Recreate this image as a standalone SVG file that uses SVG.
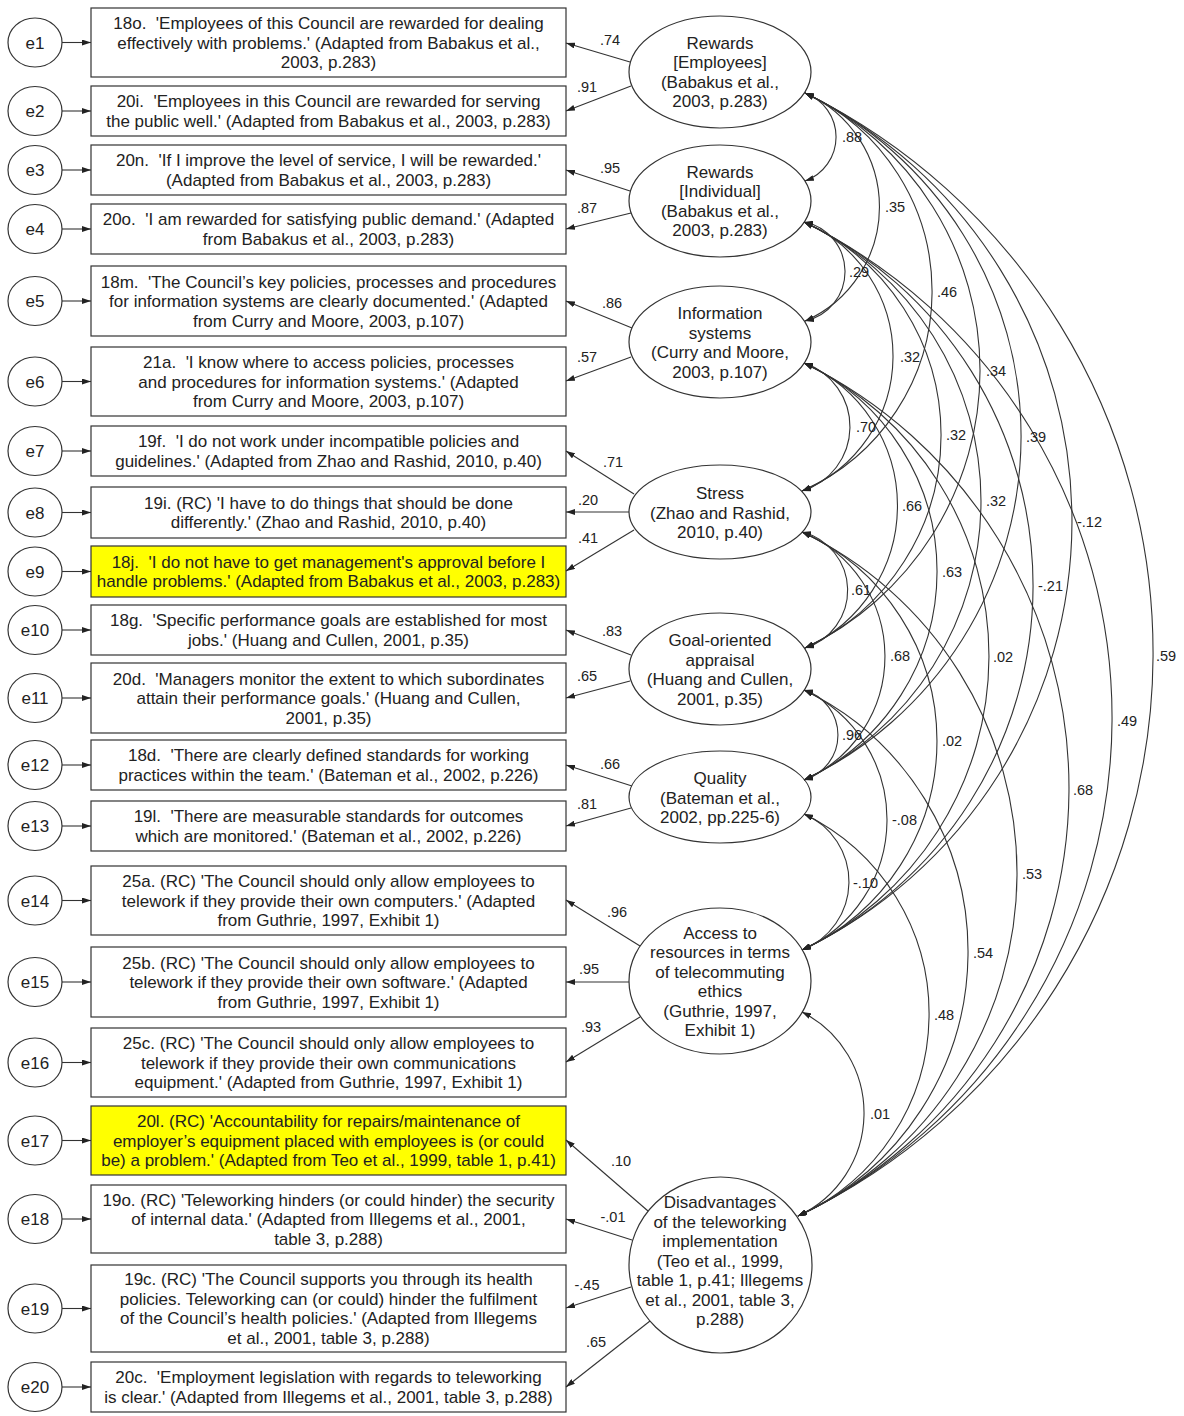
<svg xmlns="http://www.w3.org/2000/svg" width="1184" height="1416" viewBox="0 0 1184 1416">
<style>
.box{fill:#fff;stroke:#333;stroke-width:1.2}
.hl{fill:#ffff00}
.lat{fill:#fff;stroke:#333;stroke-width:1.2}
.t{font-family:"Liberation Sans",Arial,sans-serif;font-size:17px;fill:#222;text-anchor:middle;white-space:pre}
.l{font-family:"Liberation Sans",Arial,sans-serif;font-size:14.5px;fill:#222}
.lm{text-anchor:middle}
.a{fill:none;stroke:#333;stroke-width:1.1;marker-end:url(#ah)}
.c{fill:none;stroke:#333;stroke-width:1.1;marker-start:url(#ah);marker-end:url(#ah)}
</style>
<defs>
<marker id="ah" viewBox="0 0 9 6" refX="9" refY="3" markerWidth="9" markerHeight="6" markerUnits="userSpaceOnUse" orient="auto-start-reverse"><path d="M0,0 L9,3 L0,6 z" fill="#222"/></marker>
</defs>
<rect width="1184" height="1416" fill="#fff"/>

<g id="errors">
<g id="e1"><ellipse class="lat" cx="35" cy="42.5" rx="27" ry="24.5"/><text class="t" x="35" y="48.5">e1</text></g>
<g id="e2"><ellipse class="lat" cx="35" cy="111" rx="27" ry="24.5"/><text class="t" x="35" y="117">e2</text></g>
<g id="e3"><ellipse class="lat" cx="35" cy="170" rx="27" ry="24.5"/><text class="t" x="35" y="176">e3</text></g>
<g id="e4"><ellipse class="lat" cx="35" cy="229" rx="27" ry="24.5"/><text class="t" x="35" y="235">e4</text></g>
<g id="e5"><ellipse class="lat" cx="35" cy="301" rx="27" ry="24.5"/><text class="t" x="35" y="307">e5</text></g>
<g id="e6"><ellipse class="lat" cx="35" cy="381.5" rx="27" ry="24.5"/><text class="t" x="35" y="387.5">e6</text></g>
<g id="e7"><ellipse class="lat" cx="35" cy="451" rx="27" ry="24.5"/><text class="t" x="35" y="457">e7</text></g>
<g id="e8"><ellipse class="lat" cx="35" cy="512.5" rx="27" ry="24.5"/><text class="t" x="35" y="518.5">e8</text></g>
<g id="e9"><ellipse class="lat" cx="35" cy="571.5" rx="27" ry="24.5"/><text class="t" x="35" y="577.5">e9</text></g>
<g id="e10"><ellipse class="lat" cx="35" cy="630" rx="27" ry="24.5"/><text class="t" x="35" y="636">e10</text></g>
<g id="e11"><ellipse class="lat" cx="35" cy="698" rx="27" ry="24.5"/><text class="t" x="35" y="704">e11</text></g>
<g id="e12"><ellipse class="lat" cx="35" cy="765" rx="27" ry="24.5"/><text class="t" x="35" y="771">e12</text></g>
<g id="e13"><ellipse class="lat" cx="35" cy="826" rx="27" ry="24.5"/><text class="t" x="35" y="832">e13</text></g>
<g id="e14"><ellipse class="lat" cx="35" cy="900.5" rx="27" ry="24.5"/><text class="t" x="35" y="906.5">e14</text></g>
<g id="e15"><ellipse class="lat" cx="35" cy="982" rx="27" ry="24.5"/><text class="t" x="35" y="988">e15</text></g>
<g id="e16"><ellipse class="lat" cx="35" cy="1062.5" rx="27" ry="24.5"/><text class="t" x="35" y="1068.5">e16</text></g>
<g id="e17"><ellipse class="lat" cx="35" cy="1140.5" rx="27" ry="24.5"/><text class="t" x="35" y="1146.5">e17</text></g>
<g id="e18"><ellipse class="lat" cx="35" cy="1219" rx="27" ry="24.5"/><text class="t" x="35" y="1225">e18</text></g>
<g id="e19"><ellipse class="lat" cx="35" cy="1308.5" rx="27" ry="24.5"/><text class="t" x="35" y="1314.5">e19</text></g>
<g id="e20"><ellipse class="lat" cx="35" cy="1387" rx="27" ry="24.5"/><text class="t" x="35" y="1393">e20</text></g>
</g>

<g id="items">
<g id="i18o"><rect class="box" x="91" y="8" width="475" height="69"/><text class="t" y="29"><tspan x="328.5">18o.  'Employees of this Council are rewarded for dealing</tspan><tspan x="328.5" dy="19.5">effectively with problems.' (Adapted from Babakus et al.,</tspan><tspan x="328.5" dy="19.5">2003, p.283)</tspan></text></g>
<g id="i20i"><rect class="box" x="91" y="86" width="475" height="50"/><text class="t" y="107.25"><tspan x="328.5">20i.  'Employees in this Council are rewarded for serving</tspan><tspan x="328.5" dy="19.5">the public well.' (Adapted from Babakus et al., 2003, p.283)</tspan></text></g>
<g id="i20n"><rect class="box" x="91" y="145" width="475" height="50"/><text class="t" y="166.25"><tspan x="328.5">20n.  'If I improve the level of service, I will be rewarded.'</tspan><tspan x="328.5" dy="19.5">(Adapted from Babakus et al., 2003, p.283)</tspan></text></g>
<g id="i20o"><rect class="box" x="91" y="204" width="475" height="50"/><text class="t" y="225.25"><tspan x="328.5">20o.  'I am rewarded for satisfying public demand.' (Adapted</tspan><tspan x="328.5" dy="19.5">from Babakus et al., 2003, p.283)</tspan></text></g>
<g id="i18m"><rect class="box" x="91" y="266" width="475" height="70"/><text class="t" y="287.5"><tspan x="328.5">18m.  'The Council’s key policies, processes and procedures</tspan><tspan x="328.5" dy="19.5">for information systems are clearly documented.' (Adapted</tspan><tspan x="328.5" dy="19.5">from Curry and Moore, 2003, p.107)</tspan></text></g>
<g id="i21a"><rect class="box" x="91" y="347" width="475" height="69"/><text class="t" y="368"><tspan x="328.5">21a.  'I know where to access policies, processes</tspan><tspan x="328.5" dy="19.5">and procedures for information systems.' (Adapted</tspan><tspan x="328.5" dy="19.5">from Curry and Moore, 2003, p.107)</tspan></text></g>
<g id="i19f"><rect class="box" x="91" y="426" width="475" height="50"/><text class="t" y="447.25"><tspan x="328.5">19f.  'I do not work under incompatible policies and</tspan><tspan x="328.5" dy="19.5">guidelines.' (Adapted from Zhao and Rashid, 2010, p.40)</tspan></text></g>
<g id="i19i"><rect class="box" x="91" y="487" width="475" height="51"/><text class="t" y="508.75"><tspan x="328.5">19i. (RC) 'I have to do things that should be done</tspan><tspan x="328.5" dy="19.5">differently.' (Zhao and Rashid, 2010, p.40)</tspan></text></g>
<g id="i18j"><rect class="box hl" x="91" y="546" width="475" height="51"/><text class="t" y="567.75"><tspan x="328.5">18j.  'I do not have to get management's approval before I</tspan><tspan x="328.5" dy="19.5">handle problems.' (Adapted from Babakus et al., 2003, p.283)</tspan></text></g>
<g id="i18g"><rect class="box" x="91" y="605" width="475" height="50"/><text class="t" y="626.25"><tspan x="328.5">18g.  'Specific performance goals are established for most</tspan><tspan x="328.5" dy="19.5">jobs.' (Huang and Cullen, 2001, p.35)</tspan></text></g>
<g id="i20d"><rect class="box" x="91" y="663" width="475" height="70"/><text class="t" y="684.5"><tspan x="328.5">20d.  'Managers monitor the extent to which subordinates</tspan><tspan x="328.5" dy="19.5">attain their performance goals.' (Huang and Cullen,</tspan><tspan x="328.5" dy="19.5">2001, p.35)</tspan></text></g>
<g id="i18d"><rect class="box" x="91" y="740" width="475" height="50"/><text class="t" y="761.25"><tspan x="328.5">18d.  'There are clearly defined standards for working</tspan><tspan x="328.5" dy="19.5">practices within the team.' (Bateman et al., 2002, p.226)</tspan></text></g>
<g id="i19l"><rect class="box" x="91" y="801" width="475" height="50"/><text class="t" y="822.25"><tspan x="328.5">19l.  'There are measurable standards for outcomes</tspan><tspan x="328.5" dy="19.5">which are monitored.' (Bateman et al., 2002, p.226)</tspan></text></g>
<g id="i25a"><rect class="box" x="91" y="866" width="475" height="69"/><text class="t" y="887"><tspan x="328.5">25a. (RC) 'The Council should only allow employees to</tspan><tspan x="328.5" dy="19.5">telework if they provide their own computers.' (Adapted</tspan><tspan x="328.5" dy="19.5">from Guthrie, 1997, Exhibit 1)</tspan></text></g>
<g id="i25b"><rect class="box" x="91" y="947" width="475" height="70"/><text class="t" y="968.5"><tspan x="328.5">25b. (RC) 'The Council should only allow employees to</tspan><tspan x="328.5" dy="19.5">telework if they provide their own software.' (Adapted</tspan><tspan x="328.5" dy="19.5">from Guthrie, 1997, Exhibit 1)</tspan></text></g>
<g id="i25c"><rect class="box" x="91" y="1028" width="475" height="69"/><text class="t" y="1049"><tspan x="328.5">25c. (RC) 'The Council should only allow employees to</tspan><tspan x="328.5" dy="19.5">telework if they provide their own communications</tspan><tspan x="328.5" dy="19.5">equipment.' (Adapted from Guthrie, 1997, Exhibit 1)</tspan></text></g>
<g id="i20l"><rect class="box hl" x="91" y="1106" width="475" height="69"/><text class="t" y="1127"><tspan x="328.5">20l. (RC) 'Accountability for repairs/maintenance of</tspan><tspan x="328.5" dy="19.5">employer’s equipment placed with employees is (or could</tspan><tspan x="328.5" dy="19.5">be) a problem.' (Adapted from Teo et al., 1999, table 1, p.41)</tspan></text></g>
<g id="i19o"><rect class="box" x="91" y="1185" width="475" height="68"/><text class="t" y="1205.5"><tspan x="328.5">19o. (RC) 'Teleworking hinders (or could hinder) the security</tspan><tspan x="328.5" dy="19.5">of internal data.' (Adapted from Illegems et al., 2001,</tspan><tspan x="328.5" dy="19.5">table 3, p.288)</tspan></text></g>
<g id="i19c"><rect class="box" x="91" y="1265" width="475" height="87"/><text class="t" y="1285.25"><tspan x="328.5">19c. (RC) 'The Council supports you through its health</tspan><tspan x="328.5" dy="19.5">policies. Teleworking can (or could) hinder the fulfilment</tspan><tspan x="328.5" dy="19.5">of the Council’s health policies.' (Adapted from Illegems</tspan><tspan x="328.5" dy="19.5">et al., 2001, table 3, p.288)</tspan></text></g>
<g id="i20c"><rect class="box" x="91" y="1362" width="475" height="50"/><text class="t" y="1383.25"><tspan x="328.5">20c.  'Employment legislation with regards to teleworking</tspan><tspan x="328.5" dy="19.5">is clear.' (Adapted from Illegems et al., 2001, table 3, p.288)</tspan></text></g>
</g>

<g id="latents">
<g id="rewEmp"><ellipse class="lat hl" cx="720" cy="72" rx="91" ry="56"/><text class="t" y="48.75"><tspan x="720">Rewards</tspan><tspan x="720" dy="19.5">[Employees]</tspan><tspan x="720" dy="19.5">(Babakus et al.,</tspan><tspan x="720" dy="19.5">2003, p.283)</tspan></text></g>
<g id="rewInd"><ellipse class="lat hl" cx="720" cy="201" rx="91" ry="56"/><text class="t" y="177.75"><tspan x="720">Rewards</tspan><tspan x="720" dy="19.5">[Individual]</tspan><tspan x="720" dy="19.5">(Babakus et al.,</tspan><tspan x="720" dy="19.5">2003, p.283)</tspan></text></g>
<g id="infoSys"><ellipse class="lat" cx="720" cy="342" rx="91" ry="56"/><text class="t" y="319.25"><tspan x="720">Information</tspan><tspan x="720" dy="19.5">systems</tspan><tspan x="720" dy="19.5">(Curry and Moore,</tspan><tspan x="720" dy="19.5">2003, p.107)</tspan></text></g>
<g id="stress"><ellipse class="lat hl" cx="720" cy="512" rx="91" ry="47"/><text class="t" y="499"><tspan x="720">Stress</tspan><tspan x="720" dy="19.5">(Zhao and Rashid,</tspan><tspan x="720" dy="19.5">2010, p.40)</tspan></text></g>
<g id="goal"><ellipse class="lat" cx="720" cy="669" rx="91" ry="56"/><text class="t" y="646.25"><tspan x="720">Goal-oriented</tspan><tspan x="720" dy="19.5">appraisal</tspan><tspan x="720" dy="19.5">(Huang and Cullen,</tspan><tspan x="720" dy="19.5">2001, p.35)</tspan></text></g>
<g id="quality"><ellipse class="lat" cx="720" cy="797" rx="91" ry="46"/><text class="t" y="784"><tspan x="720">Quality</tspan><tspan x="720" dy="19.5">(Bateman et al.,</tspan><tspan x="720" dy="19.5">2002, pp.225-6)</tspan></text></g>
<g id="access"><ellipse class="lat" cx="720" cy="981" rx="91" ry="73"/><text class="t" y="938.75"><tspan x="720">Access to</tspan><tspan x="720" dy="19.5">resources in terms</tspan><tspan x="720" dy="19.5">of telecommuting</tspan><tspan x="720" dy="19.5">ethics</tspan><tspan x="720" dy="19.5">(Guthrie, 1997,</tspan><tspan x="720" dy="19.5">Exhibit 1)</tspan></text></g>
<g id="disadv"><ellipse class="lat hl" cx="720.5" cy="1265" rx="91.5" ry="88"/><text class="t" y="1208"><tspan x="720">Disadvantages</tspan><tspan x="720" dy="19.5">of the teleworking</tspan><tspan x="720" dy="19.5">implementation</tspan><tspan x="720" dy="19.5">(Teo et al., 1999,</tspan><tspan x="720" dy="19.5">table 1, p.41; Illegems</tspan><tspan x="720" dy="19.5">et al., 2001, table 3,</tspan><tspan x="720" dy="19.5">p.288)</tspan></text></g>
</g>

<g id="connectors">
<g id="errorArrows">
<path class="a" d="M62,42.5H91"/><path class="a" d="M62,111H91"/><path class="a" d="M62,170H91"/><path class="a" d="M62,229H91"/>
<path class="a" d="M62,301H91"/><path class="a" d="M62,381.5H91"/><path class="a" d="M62,451H91"/><path class="a" d="M62,512.5H91"/>
<path class="a" d="M62,571.5H91"/><path class="a" d="M62,630H91"/><path class="a" d="M62,698H91"/><path class="a" d="M62,765H91"/>
<path class="a" d="M62,826H91"/><path class="a" d="M62,900.5H91"/><path class="a" d="M62,982H91"/><path class="a" d="M62,1062.5H91"/>
<path class="a" d="M62,1140.5H91"/><path class="a" d="M62,1219H91"/><path class="a" d="M62,1308.5H91"/><path class="a" d="M62,1387H91"/>
</g>
<g id="loadings">
<path class="a" d="M630,62L566,43"/><path class="a" d="M631,86L566,111"/>
<path class="a" d="M630,191L566,170"/><path class="a" d="M631,213L566,229"/>
<path class="a" d="M632,328L566,301"/><path class="a" d="M631,357L566,381"/>
<path class="a" d="M634,494L566,451"/><path class="a" d="M629,512L566,512"/><path class="a" d="M634,530L566,571"/>
<path class="a" d="M631,655L566,630"/><path class="a" d="M630,681L566,698"/>
<path class="a" d="M632,786L566,765"/><path class="a" d="M631,808L566,826"/>
<path class="a" d="M640,946L566,900"/><path class="a" d="M629,982L566,982"/><path class="a" d="M640,1017L566,1062"/>
<path class="a" d="M648,1211L566,1140"/><path class="a" d="M632,1240L566,1219"/><path class="a" d="M631,1287L566,1308"/><path class="a" d="M650,1321L566,1387"/>
</g>
<g id="loadingLabels" class="l lm">
<text x="610" y="45">.74</text><text x="587" y="92">.91</text>
<text x="610" y="173">.95</text><text x="587" y="213">.87</text>
<text x="612" y="308">.86</text><text x="587" y="362">.57</text>
<text x="613" y="467">.71</text><text x="588" y="505">.20</text><text x="588" y="543">.41</text>
<text x="612" y="636">.83</text><text x="587" y="681">.65</text>
<text x="610" y="769">.66</text><text x="587" y="809">.81</text>
<text x="617" y="917">.96</text><text x="589" y="974">.95</text><text x="591" y="1032">.93</text>
<text x="621" y="1166">.10</text><text x="613" y="1222">-.01</text><text x="587" y="1290">-.45</text><text x="596" y="1347">.65</text>
</g>
<g id="covariances">
<path class="c" d="M805,93A46.7,46.7 0 0 1 805,181"/>
<path class="c" d="M805,93A124.5,124.5 0 0 1 805,321"/>
<path class="c" d="M804,222A50.5,50.5 0 0 1 805,321"/>
<path class="c" d="M805,93A218.3,218.3 0 0 1 802,491"/>
<path class="c" d="M804,222A145.5,145.5 0 0 1 802,491"/>
<path class="c" d="M805,93A307.5,307.5 0 0 1 805,648"/>
<path class="c" d="M804,363A67.1,67.1 0 0 1 802,491"/>
<path class="c" d="M804,222A234.4,234.4 0 0 1 805,648"/>
<path class="c" d="M805,93A380.7,380.7 0 0 1 804,780"/>
<path class="c" d="M804,363A155.7,155.7 0 0 1 805,648"/>
<path class="c" d="M804,222A308.4,308.4 0 0 1 804,780"/>
<path class="c" d="M805,93A476.2,476.2 0 0 1 802,950"/>
<path class="c" d="M804,363A229.9,229.9 0 0 1 804,780"/>
<path class="c" d="M804,222A403,403 0 0 1 802,950"/>
<path class="c" d="M802,532A60.2,60.2 0 0 1 805,648"/>
<path class="c" d="M805,93A624.2,624.2 0 0 1 798,1216"/>
<path class="c" d="M802,532A134.8,134.8 0 0 1 804,780"/>
<path class="c" d="M804,363A324.6,324.6 0 0 1 802,950"/>
<path class="c" d="M804,222A552.6,552.6 0 0 1 798,1216"/>
<path class="c" d="M802,532A229.3,229.3 0 0 1 802,950"/>
<path class="c" d="M804,690A46.8,46.8 0 0 1 804,780"/>
<path class="c" d="M804,363A473.4,473.4 0 0 1 798,1216"/>
<path class="c" d="M804,690A142.6,142.6 0 0 1 802,950"/>
<path class="c" d="M804,814A73.3,73.3 0 0 1 802,950"/>
<path class="c" d="M802,532A378,378 0 0 1 798,1216"/>
<path class="c" d="M804,690A290.6,290.6 0 0 1 798,1216"/>
<path class="c" d="M804,814A221.8,221.8 0 0 1 798,1216"/>
<path class="c" d="M802,1012A113.3,113.3 0 0 1 798,1216"/>
</g>
<g id="covLabels" class="l">
<text x="842" y="142">.88</text>
<text x="885" y="212">.35</text>
<text x="849" y="277">.29</text>
<text x="937" y="297">.46</text>
<text x="900" y="362">.32</text>
<text x="986" y="376">.34</text>
<text x="856" y="432">.70</text>
<text x="946" y="440">.32</text>
<text x="1026" y="442">.39</text>
<text x="902" y="511">.66</text>
<text x="986" y="506">.32</text>
<text x="1077" y="527">-.12</text>
<text x="942" y="577">.63</text>
<text x="1038" y="591">-.21</text>
<text x="851" y="595">.61</text>
<text x="1156" y="661">.59</text>
<text x="890" y="661">.68</text>
<text x="993" y="662">.02</text>
<text x="1117" y="726">.49</text>
<text x="942" y="746">.02</text>
<text x="842" y="740">.96</text>
<text x="1073" y="795">.68</text>
<text x="892" y="825">-.08</text>
<text x="853" y="888">-.10</text>
<text x="1022" y="879">.53</text>
<text x="973" y="958">.54</text>
<text x="934" y="1020">.48</text>
<text x="870" y="1119">.01</text>
</g>
</g>
</svg>
